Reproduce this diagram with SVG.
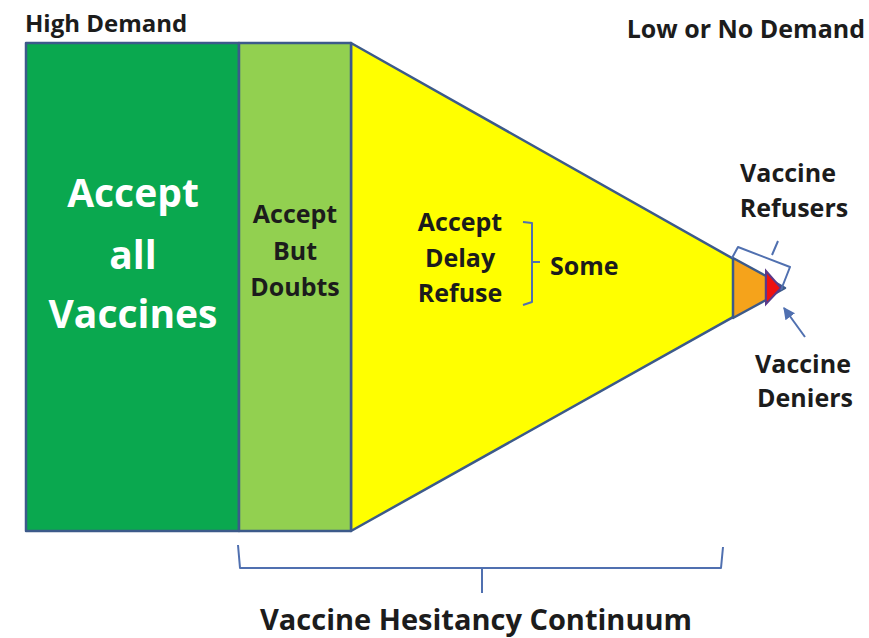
<svg xmlns="http://www.w3.org/2000/svg" width="869" height="638" viewBox="0 0 869 638">
<style>
.t{font-family:"Open Sans","Liberation Sans",sans-serif;font-weight:bold;fill:#1c1c1c}
.m{font-size:25px}
.w{fill:#ffffff}
.sh{stroke:#3c5a8a;stroke-width:2.5;stroke-linejoin:round}
.br{fill:none;stroke:#5070b0;stroke-width:2;stroke-linejoin:round}
</style>
<defs>
<marker id="ah" viewBox="0 0 10 10" refX="9" refY="5" markerWidth="6" markerHeight="6" orient="auto-start-reverse">
<path d="M0,0 L10,5 L0,10 Z" fill="#5070b0"/>
</marker>
</defs>
<rect width="869" height="638" fill="#ffffff"/>
<text class="t" x="25" y="32" font-size="24">High Demand</text>
<text class="t" x="865" y="38" font-size="25" text-anchor="end">Low or No Demand</text>

<g id="yellow">
<path class="sh" d="M351,43 L785,288 L351,531 Z" fill="#ffff00"/>
</g>
<g id="orange">
<path class="sh" d="M733,258 L766,276 L766,300 L733,318 Z" fill="#f5a31b" stroke-width="2"/>
</g>
<g id="red">
<path d="M766,271 L781,288 L766,304 Z" fill="#ee1111" stroke="#5a3a8a" stroke-width="2"/>
</g>
<g id="accept-all">
<rect class="sh" x="26" y="43" width="213" height="488" fill="#0aa84f"/>
<text class="t w" font-size="39" text-anchor="middle"><tspan x="133" y="207">Accept</tspan><tspan x="133" y="269">all</tspan><tspan x="133" y="328">Vaccines</tspan></text>
</g>
<g id="accept-doubts">
<rect class="sh" x="239" y="43" width="112" height="488" fill="#92d050"/>
<text class="t m" text-anchor="middle"><tspan x="295" y="223">Accept</tspan><tspan x="295" y="260">But</tspan><tspan x="295" y="296">Doubts</tspan></text>
</g>
<g id="some">
<text class="t m" text-anchor="middle"><tspan x="460" y="231">Accept</tspan><tspan x="460" y="267">Delay</tspan><tspan x="460" y="302">Refuse</tspan></text>
<text class="t m" x="550" y="275">Some</text>
</g>
<g id="refusers">
<text class="t m" text-anchor="middle"><tspan x="788" y="182">Vaccine</tspan><tspan x="794" y="217">Refusers</tspan></text>
</g>
<g id="deniers">
<text class="t m" text-anchor="middle"><tspan x="803" y="373">Vaccine</tspan><tspan x="805" y="407">Deniers</tspan></text>
</g>
<g id="continuum">
<text class="t" x="476" y="630" font-size="29" text-anchor="middle">Vaccine Hesitancy Continuum</text>
</g>
<g id="connectors">
<path class="br" d="M523,222 L532,223 L532,302 L523,305 M532,262 L540,262"/>
<path class="br" d="M732,258 L738,247 L790,267 L781,290 M772,255 L778,241"/>
<path class="br" d="M238,545 L240,568 L721,568 L723,547 M482,568 L482,593"/>
<line class="br" x1="805" y1="337" x2="784" y2="308" marker-end="url(#ah)"/>
</g>
</svg>
